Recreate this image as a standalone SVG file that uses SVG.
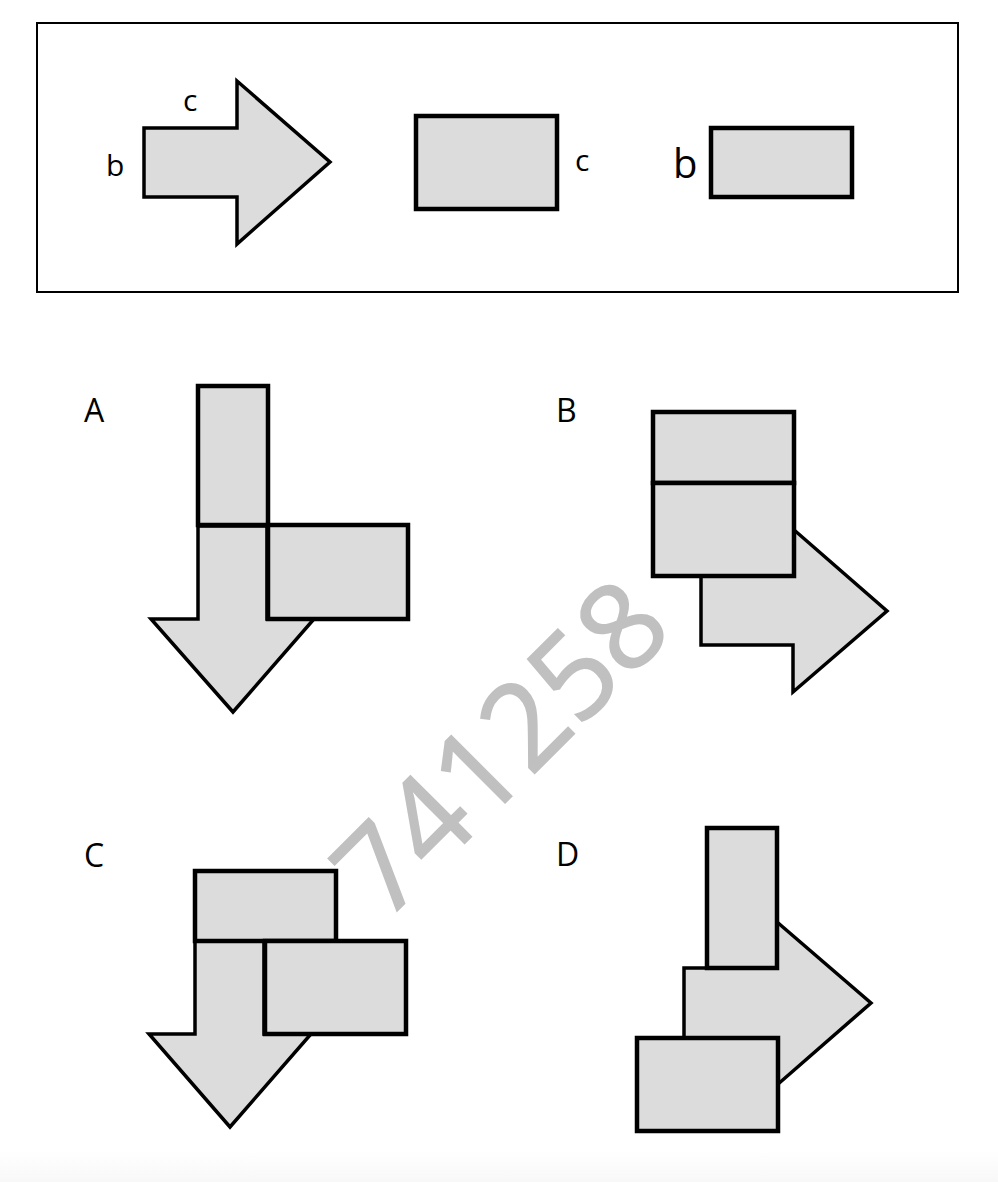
<svg xmlns="http://www.w3.org/2000/svg" width="998" height="1182" viewBox="0 0 998 1182">
<style>
.r{fill:#dcdcdc;stroke:#000;stroke-width:4.5}
.a{fill:#dcdcdc;stroke:#000;stroke-width:3.5;stroke-linejoin:miter}
.t{font-family:"Open Sans","Liberation Sans",sans-serif;fill:#000}
.wm{font-family:"Open Sans","Liberation Sans",sans-serif;fill:#c0c0c0;stroke:#c0c0c0;stroke-width:1.6;font-size:120px}
</style>
<defs>
<linearGradient id="fade" x1="0" y1="0" x2="0" y2="1">
<stop offset="0" stop-color="#ffffff"/>
<stop offset="1" stop-color="#f8f8f8"/>
</linearGradient>
</defs>
<rect x="0" y="0" width="998" height="1182" fill="#fff"/>
<rect x="0" y="1150" width="998" height="32" fill="url(#fade)"/>
<g id="legend">
<rect x="37" y="23" width="921" height="269" fill="none" stroke="#000" stroke-width="2"/>
<polygon class="a" points="144,128 237,128 237,81 330,162 237,244 237,197 144,197"/>
<text class="t" x="183" y="111" font-size="30">c</text>
<text class="t" x="106" y="176" font-size="30">b</text>
<rect class="r" x="416" y="116" width="141" height="93"/>
<text class="t" x="575" y="171" font-size="30">c</text>
<rect class="r" x="711" y="128" width="141" height="69"/>
<text class="t" x="673" y="178" font-size="40">b</text>
</g>
<g id="optionA">
<text class="t" x="84" y="422" font-size="32">A</text>
<polygon class="a" points="198,526 267,526 267,619 314,619 233,712 151,619 198,619"/>
<rect class="r" x="198" y="386" width="70" height="139"/>
<rect class="r" x="268" y="525" width="140" height="94"/>
</g>
<g id="optionB">
<text class="t" x="556" y="422" font-size="32">B</text>
<polygon class="a" points="701,576 793,576 793,529 887,611 793,692 793,645 701,645"/>
<rect class="r" x="653" y="412" width="141" height="71"/>
<rect class="r" x="653" y="483" width="141" height="93"/>
</g>
<g id="optionC">
<text class="t" x="84" y="867" font-size="32">C</text>
<polygon class="a" points="195,941 264,941 264,1034 311,1034 230,1127 149,1034 195,1034"/>
<rect class="r" x="195" y="871" width="141" height="70"/>
<rect class="r" x="265" y="941" width="141" height="93"/>
</g>
<g id="optionD">
<text class="t" x="556" y="866" font-size="32">D</text>
<polygon class="a" points="684,968 777,968 777,922 871,1003 777,1085 777,1038 684,1038"/>
<rect class="r" x="707" y="828" width="70" height="140"/>
<rect class="r" x="637" y="1038" width="141" height="93"/>
</g>
<g id="connectors"/>
<text class="wm" x="385" y="923" transform="rotate(-45 385 923)">741258</text>
</svg>
